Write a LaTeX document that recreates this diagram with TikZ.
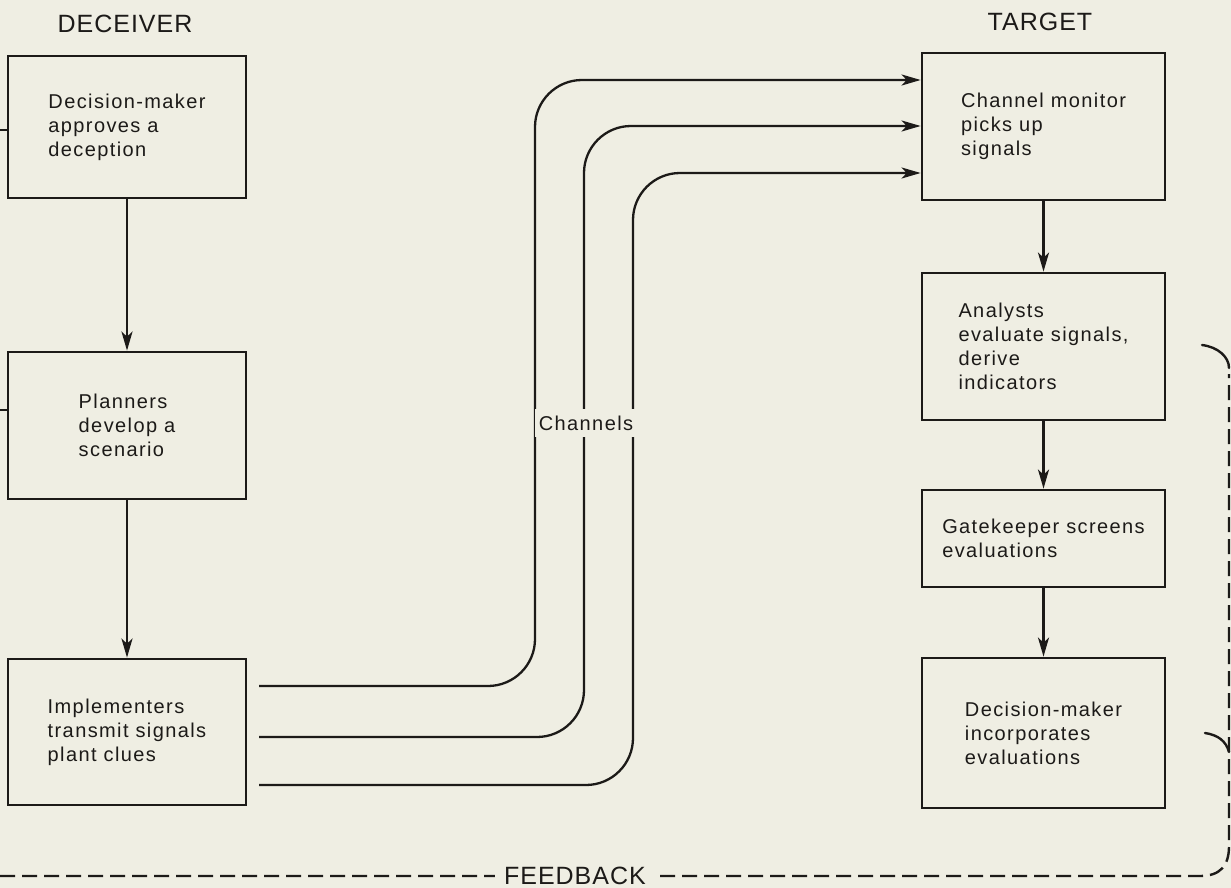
\documentclass[tikz,border=0pt]{standalone}
\usepackage{fontspec}
\setmainfont{Liberation Sans}
\newfontfamily\boxfont[LetterSpace=7]{Liberation Sans}
\newfontfamily\headfont[LetterSpace=4]{Liberation Sans}
\usetikzlibrary{arrows.meta}
\definecolor{paper}{HTML}{EFEEE3}
\definecolor{ink}{HTML}{1C1A18}

\begin{document}
\begin{tikzpicture}[x=1pt,y=-1pt,
  box/.style={draw=ink, line width=2.8pt, align=left, inner sep=0pt,
    text=ink, font=\boxfont\fontsize{20}{24}\selectfont},
  head/.style={text=ink, inner sep=0pt, font=\headfont\fontsize{25}{30}\selectfont},
  tag/.style={text=ink, fill=paper, inner xsep=4pt, inner ysep=7pt,
    font=\boxfont\fontsize{20}{24}\selectfont},
  arr/.style={draw=ink, line width=2.3pt, -{Stealth[length=19pt,width=11pt,inset=5pt]}},
  chan/.style={arr, rounded corners=47pt},
  link/.style={draw=ink, line width=2.3pt},
  hook/.style={draw=ink, line width=2.4pt, line cap=round},
  fb/.style={draw=ink, line width=2.4pt, dash pattern=on 15pt off 7pt},
]
% page
\fill[paper] (0,0) rectangle (1231,888);
\useasboundingbox (0,0) rectangle (1231,888);

% column headings
\node[head] (hdec) at (125,24) {DECEIVER};
\node[head] (htar) at (1040,22) {TARGET};

% deceiver side
\node[box, minimum width=238pt, minimum height=142pt] (d1) at (127,127)
  {Decision-maker\\approves a\\deception};
\node[box, minimum width=238pt, minimum height=147pt] (d2) at (127,425.5)
  {Planners\\develop a\\scenario};
\node[box, minimum width=238pt, minimum height=146pt] (d3) at (127,732)
  {Implementers\\transmit signals\\plant clues};

% target side
\node[box, minimum width=243pt, minimum height=147pt] (t1) at (1043.5,126.5)
  {Channel monitor\\picks up\\signals};
\node[box, minimum width=243pt, minimum height=147pt] (t2) at (1043.5,346.5)
  {Analysts\\evaluate signals,\\derive\\indicators};
\node[box, minimum width=243pt, minimum height=97pt] (t3) at (1043.5,538.5)
  {Gatekeeper screens\\evaluations};
\node[box, minimum width=243pt, minimum height=150pt] (t4) at (1043.5,733)
  {Decision-maker\\incorporates\\evaluations};

% vertical flow
\draw[arr] (d1) -- (d2);
\draw[arr] (d2) -- (d3);
\draw[arr] (t1) -- (t2);
\draw[arr] (t2) -- (t3);
\draw[arr] (t3) -- (t4);

% channels
\coordinate (c1) at (259,686);
\coordinate (c2) at (259,737);
\coordinate (c3) at (259,785);
\draw[chan] (c1) -- (535,686) -- (535,80) -- ([yshift=46.5pt]t1.west);
\draw[chan] (c2) -- (584,737) -- (584,126) -- ([yshift=0.5pt]t1.west);
\draw[chan] (c3) -- (633,785) -- (633,173) -- ([yshift=-46.5pt]t1.west);
\node[tag] (chl) at (586,423) {Channels};

% feedback loop stubs on the deceiver side
\draw[link] ([yshift=-3pt]d1.west) -- ++(-10,0);
\draw[link] ([yshift=15.5pt]d2.west) -- ++(-10,0);

% feedback bracket
\coordinate (fbstart) at (0,876);
\coordinate (fbend) at (1229,374);
\coordinate (fbtop) at (1202,345);
\coordinate (fbtick) at (1205,733);
\draw[fb] (fbstart) -- (1200,876) .. controls (1220,876) and (1229,866) .. (1229,846)
  -- (fbend);
\draw[hook] (fbtop) .. controls (1218,347) and (1229,357) .. (1229,368);
\draw[hook] (fbtick) .. controls (1218,735) and (1226,741) .. (1229,752);
\node[head, fill=paper, inner xsep=9pt, inner ysep=4pt, anchor=east] (fbl) at (655,876) {FEEDBACK};
\end{tikzpicture}
\end{document}
